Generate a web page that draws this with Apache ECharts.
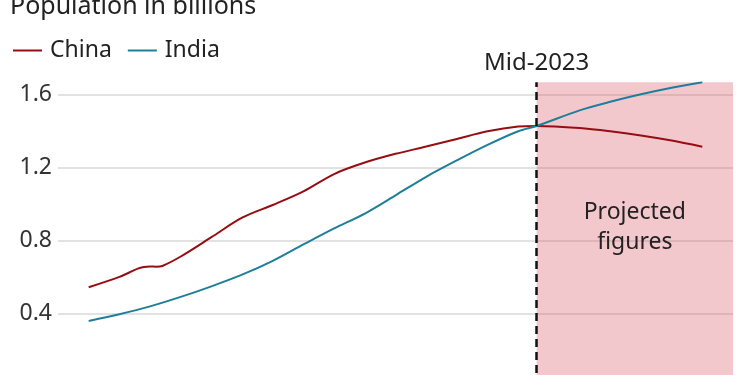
<!DOCTYPE html>
<html><head><meta charset="utf-8">
<script src="https://cdn.jsdelivr.net/npm/echarts@6/dist/echarts.min.js"></script>
<style>html,body{margin:0;padding:0;background:#fff;overflow:hidden;width:750px;height:375px}#c{width:750px;height:400px}</style>
</head><body><div id="c"></div>
<script>
const chinaYears = [1950,1955,1958,1959,1960,1961,1962,1965,1970,1975,1980,1985,1990,1995,2000,2005,2010,2015,2020,2023,2030,2035,2040,2045,2050];
const chinaValues = [0.543,0.600,0.645,0.654,0.657,0.656,0.660,0.712,0.818,0.925,0.995,1.070,1.165,1.228,1.276,1.316,1.358,1.400,1.426,1.429,1.418,1.400,1.377,1.349,1.315];
const indiaYears = [1950,1955,1960,1965,1970,1975,1980,1985,1990,1995,2000,2005,2010,2015,2020,2023,2030,2035,2040,2045,2050];
const indiaValues = [0.358,0.395,0.438,0.490,0.548,0.612,0.688,0.778,0.866,0.948,1.048,1.150,1.240,1.325,1.400,1.429,1.515,1.562,1.603,1.639,1.669];
const yTicks = [0.4,0.8,1.2,1.6];
const projectionStart = 2023;
const xRange = [1945, 2055];
const projTop = 1.669;

const chart = echarts.init(document.getElementById('c'));
const font = '"Noto Sans", sans-serif';
chart.setOption({
  animation: false,
  graphic: [{
    type: 'text', x: 10, y: 7,
    style: { text: 'Population in billions', font: '25px ' + font, fill: '#222', verticalAlign: 'middle' }
  }],
  legend: {
    left: 8, top: 34, icon: 'rect', itemWidth: 29, itemHeight: 2, itemGap: 16,
    textStyle: { fontFamily: font, fontSize: 23, color: '#222', padding: [0,0,0,3] },
    data: ['China','India']
  },
  grid: { left: 58, right: 17, top: 82.3, bottom: 13.9, containLabel: false },
  xAxis: {
    type: 'value', min: xRange[0], max: xRange[1],
    axisLine: { show: false }, axisTick: { show: false }, axisLabel: { show: false }, splitLine: { show: false }
  },
  yAxis: {
    type: 'value', min: 0, max: projTop, interval: 0.4,
    axisLine: { show: false }, axisTick: { show: false },
    axisLabel: { fontFamily: font, fontSize: 23, color: '#333', margin: 6, showMaxLabel: false, showMinLabel: false,
      formatter: v => yTicks.includes(+v.toFixed(1)) && Math.abs(v - +v.toFixed(1)) < 1e-6 ? v.toFixed(1) : '' },
    splitLine: { show: true, showMinLine: false, showMaxLine: false, lineStyle: { color: '#d9d9d9', width: 1.5 } }
  },
  series: [
    {
      type: 'line', name: 'proj', data: [], z: 1, silent: true,
      markArea: {
        silent: true,
        itemStyle: { color: 'rgba(214,66,82,0.29)' },
        label: { show: true, position: 'insideTop', distance: 115, formatter: 'Projected\nfigures',
          fontFamily: font, fontSize: 23, lineHeight: 30, color: '#222' },
        data: [[{ xAxis: projectionStart, yAxis: 0 }, { xAxis: xRange[1], yAxis: projTop }]]
      },
      markLine: {
        silent: true, symbol: 'none',
        lineStyle: { color: '#111', width: 2.5, type: [8,5] },
        label: { show: true, position: 'end', formatter: 'Mid-2023', distance: 7,
          fontFamily: font, fontSize: 24, color: '#222' },
        data: [{ xAxis: projectionStart }]
      }
    },
    {
      type: 'line', name: 'China', z: 3, color: '#960d12', showSymbol: false, smooth: 0.3,
      lineStyle: { width: 2 },
      data: chinaYears.map((y,i) => [y, chinaValues[i]])
    },
    {
      type: 'line', name: 'India', z: 3, color: '#1d7f99', showSymbol: false, smooth: 0.3,
      lineStyle: { width: 2 },
      data: indiaYears.map((y,i) => [y, indiaValues[i]])
    }
  ]
});
</script></body></html>
